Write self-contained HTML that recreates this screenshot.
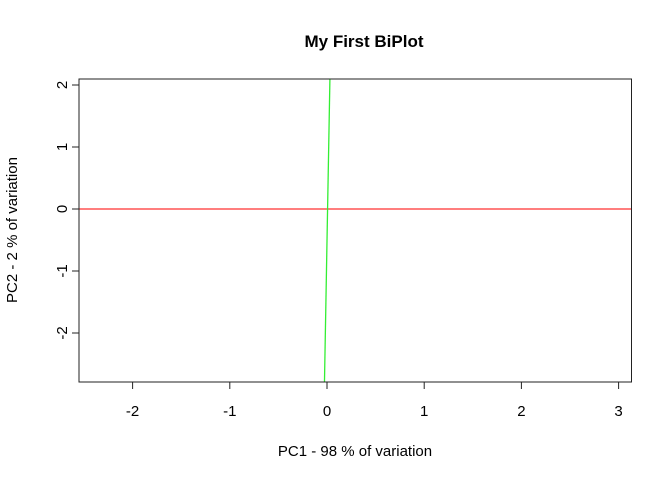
<!DOCTYPE html>
<html><head><meta charset="utf-8"><style>body{margin:0;background:#fff}svg{display:block;font-family:"Liberation Sans",sans-serif}</style></head>
<body>
<svg id="c" width="672" height="480"><defs><clipPath id="clip"><rect x="79" y="79" width="552.5" height="303"/></clipPath></defs></svg>
<script>
const xTicks=[-2,-1,0,1,2,3];
const yTicks=[-2,-1,0,1,2];
const xLoadings=[-3,3.2];
const yLoadings=[0,0];
const lineX=[-0.026,0.03];
const lineY=[-2.79,2.1];
const L=79,R=631.5,T=79,B=382;
const sx=v=>327+v*97.2, sy=v=>209-v*62;
const svg=document.getElementById('c');
const NS='http://www.w3.org/2000/svg';
function mk(t,a,txt){const e=document.createElementNS(NS,t);for(const k in a)e.setAttribute(k,a[k]);if(txt!==undefined)e.textContent=txt;svg.appendChild(e);return e;}
let e;
e=mk('text',{x:364,y:47,'text-anchor':'middle','font-size':17,'font-weight':'bold'},'My First BiPlot');


e=mk('line',{x1:sx(xLoadings[0]),x2:sx(xLoadings[1]),y1:sy(yLoadings[0]),y2:sy(yLoadings[1]),stroke:'#ff3030','stroke-width':1.3,'clip-path':'url(#clip)'});


e=mk('line',{x1:sx(lineX[0]),x2:sx(lineX[1]),y1:sy(lineY[0]),y2:sy(lineY[1]),stroke:'#33ee33','stroke-width':1.3,'clip-path':'url(#clip)'});


e=mk('rect',{x:L,y:T,width:R-L,height:B-T,fill:'none',stroke:'#222','stroke-width':1});


xTicks.forEach(v=>{
 e=mk('line',{x1:sx(v),x2:sx(v),y1:B,y2:B+7,stroke:'#222'});
 
 
 e=mk('text',{x:sx(v),y:B+34,'text-anchor':'middle','font-size':15},v);
 
 
});
yTicks.forEach(v=>{
 e=mk('line',{x1:L-7,x2:L,y1:sy(v),y2:sy(v),stroke:'#222'});
 
 
 e=mk('text',{x:0,y:0,'text-anchor':'middle','font-size':15,transform:`translate(${L-12},${sy(v)}) rotate(-90)`},v);
 
 
});
e=mk('text',{x:355,y:456,'text-anchor':'middle','font-size':15},'PC1 - 98 % of variation');


e=mk('text',{x:0,y:0,'text-anchor':'middle','font-size':15,transform:'translate(17,230) rotate(-90)'},'PC2 - 2 % of variation');


</script>
</body></html>
